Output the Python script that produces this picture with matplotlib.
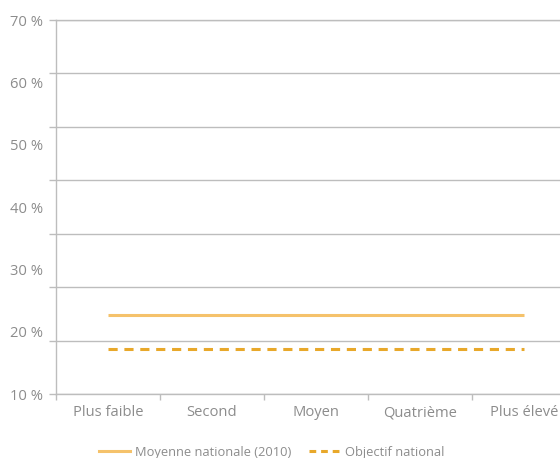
import numpy as np
import matplotlib.pyplot as plt
from matplotlib.lines import Line2D

categories = ["Plus faible", "Second", "Moyen", "Quatrième", "Plus élevé"]
moyenne = [22.6, 22.6, 22.6, 22.6, 22.6]
objectif = [17.3, 17.3, 17.3, 17.3, 17.3]
y_labels = [10, 20, 30, 40, 50, 60, 70]

plt.rcParams['font.family'] = ['Open Sans', 'DejaVu Sans']
grey = "#8c8c8c"
line_grey = "#bdbdbd"

fig = plt.figure(figsize=(5.6, 4.58), dpi=100)
ax = fig.add_axes([0.1, 0.1397, 0.9286, 0.8166])

x = np.arange(len(categories))
ax.plot(x, moyenne, "-", color="#f5c26b", lw=2.2, solid_capstyle="butt")
ax.plot(x, objectif, "--", color="#e8a82a", lw=2.2, dashes=(3, 2.2))

ax.set_xlim(-0.5, len(categories) - 0.5)
ax.set_ylim(10, 70)

# labels at 10 % steps, grid and tick marks in 7 equal steps
ax.yaxis.remove_overlapping_locs = False
ax.set_yticks(y_labels)
ax.set_yticklabels([f"{v} %" for v in y_labels])
ax.set_yticks(np.linspace(10, 70, 8), minor=True)
ax.tick_params(axis="y", which="major", length=0, pad=9, labelsize=10.6, labelcolor=grey)
ax.tick_params(axis="y", which="minor", length=5, width=1, color=line_grey)
ax.grid(axis="y", which="minor", color=line_grey, lw=1)

ax.set_xticks(x)
ax.set_xticklabels(categories)
ax.set_xticks(np.arange(-0.5, len(categories)), minor=True)
ax.tick_params(axis="x", which="major", length=0, pad=8, labelsize=10.6, labelcolor=grey)
ax.tick_params(axis="x", which="minor", length=4, width=1, color=line_grey)

for s in ["right"]:
    ax.spines[s].set_visible(False)
for s in ["left", "bottom", "top"]:
    ax.spines[s].set_color(line_grey)
    ax.spines[s].set_linewidth(1)

handles = [
    Line2D([], [], color="#f5c26b", lw=2.2),
    Line2D([], [], color="#e8a82a", lw=2.2, ls="--", dashes=(2.2, 1.6)),
]
fig.legend(handles, ["Moyenne nationale (2010)", "Objectif national"],
           loc="center", bbox_to_anchor=(0.485, 0.012), ncol=2, frameon=False,
           fontsize=9.3, labelcolor=grey, handlelength=2.35, handletextpad=0.4,
           columnspacing=1.4)

fig.savefig("out.png", dpi=100)
